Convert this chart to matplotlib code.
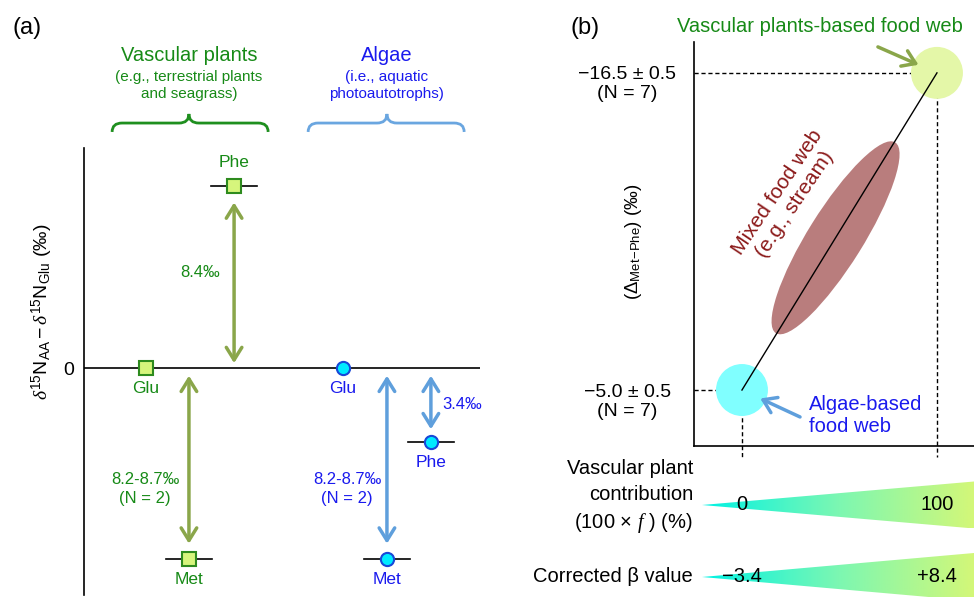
import numpy as np
import matplotlib
matplotlib.use('Agg')
import matplotlib.pyplot as plt
import matplotlib.transforms as mtransforms
from matplotlib.patches import Ellipse, Polygon, PathPatch
from matplotlib.path import Path
from matplotlib.colors import LinearSegmentedColormap

plt.rcParams['font.family'] = ['Liberation Sans', 'DejaVu Sans']
plt.rcParams['mathtext.fontset'] = 'custom'
plt.rcParams['mathtext.rm'] = 'Liberation Sans'
plt.rcParams['mathtext.it'] = 'Liberation Serif:italic'
plt.rcParams['mathtext.bf'] = 'Liberation Sans:bold'

# ---- panel (a): d15N(AA) - d15N(Glu), permil (schematic) ----
aa_names = ['Glu', 'Met', 'Phe']
vascular_vals = [0.0, -8.8, 8.4]
algae_vals = [0.0, -8.8, -3.4]
has_bar = [False, True, True]
phe_gap_vasc = '8.4‰'
phe_gap_alg = '3.4‰'
met_gap = '8.2-8.7‰\n(N = 2)'

# ---- panel (b): Delta(Met-Phe) vs vascular plant contribution ----
contrib = [0, 100]
delta_met_phe = [-5.0, -16.5]
delta_sd = [0.5, 0.5]
n_species = [7, 7]
beta_corr = [-3.4, 8.4]
mixed_f = 48

green = '#178a17'
green_arrow = '#8aa64a'
blue = '#1a1aee'
blue_arrow = '#5f9fdc'

fig = plt.figure(figsize=(9.74, 5.97), dpi=100)

# layout of panel (a)
ax = fig.add_axes([84/974, 2/597, 396/974, 447/597])
ax.set_xlim(0, 10)
ax.set_ylim(-10.46, 10.14)
for s in ['top', 'right', 'bottom']:
    ax.spines[s].set_visible(False)
ax.spines['left'].set_linewidth(1.2)
ax.set_xticks([])
ax.set_yticks([0])
ax.set_yticklabels(['0'], fontsize=14)
ax.tick_params(axis='y', length=0, pad=7)
ax.axhline(0, color='black', lw=1.2, zorder=1)

vasc_x = [1.57, 2.65, 3.79]
alg_x = [6.54, 7.65, 8.76]

for xs, vals, mk, fc, ec, tc in [
        (vasc_x, vascular_vals, 's', '#d6f57c', '#2e8b1e', green),
        (alg_x, algae_vals, 'o', '#00eaff', '#1848d8', blue)]:
    for name, x, v, bar in zip(aa_names, xs, vals, has_bar):
        if bar:
            ax.plot([x - 0.58, x + 0.58], [v, v], color='black', lw=1.2, zorder=2)
        ax.plot(x, v, marker=mk, ms=9.5, mfc=fc, mec=ec, mew=1.5, zorder=3)
        off = 17 if v > 0 else -15
        ax.annotate(name, (x, v), xytext=(0, off), textcoords='offset points',
                    ha='center', va='center', fontsize=12.5, color=tc)

def gap_arrow(x, v0, v1, color, sa, sb):
    ax.annotate('', xy=(x, v1), xytext=(x, v0),
                arrowprops=dict(arrowstyle='<->,head_length=0.45,head_width=0.28',
                                lw=2.5, color=color, shrinkA=sa, shrinkB=sb,
                                mutation_scale=20))

gap_arrow(vasc_x[2], vascular_vals[0], vascular_vals[2], green_arrow, 3.5, 12)
gap_arrow(vasc_x[1], vascular_vals[0], vascular_vals[1], green_arrow, 5.5, 11)
gap_arrow(alg_x[1], algae_vals[0], algae_vals[1], blue_arrow, 5.5, 11)
gap_arrow(alg_x[2], algae_vals[0], algae_vals[2], blue_arrow, 5.5, 9)

ax.annotate(phe_gap_vasc, (vasc_x[2], vascular_vals[2] / 2), xytext=(-24.5, 3),
            textcoords='offset points', ha='center', va='center', fontsize=12, color=green)
ax.annotate(met_gap, (vasc_x[1], vascular_vals[1] / 2), xytext=(-31.5, -18.4),
            textcoords='offset points', ha='center', va='center', fontsize=12,
            color=green, linespacing=1.3)
ax.annotate(met_gap, (alg_x[1], algae_vals[1] / 2), xytext=(-28.8, -18.4),
            textcoords='offset points', ha='center', va='center', fontsize=12,
            color=blue, linespacing=1.3)
ax.annotate(phe_gap_alg, (alg_x[2], algae_vals[2] / 2), xytext=(8, 0),
            textcoords='offset points', ha='left', va='center', fontsize=12, color=blue)

def brace(x0, x1, xc, yb, ym, yt, color):
    r = 0.25
    verts = [(x0, yb), (x0, ym), (x0 + r, ym), (xc - r, ym), (xc, ym), (xc, yt),
             (xc, ym), (xc + r, ym), (x1 - r, ym), (x1, ym), (x1, yb)]
    codes = [Path.MOVETO, Path.CURVE3, Path.CURVE3, Path.LINETO, Path.CURVE3,
             Path.CURVE3, Path.CURVE3, Path.CURVE3, Path.LINETO, Path.CURVE3, Path.CURVE3]
    ax.add_patch(PathPatch(Path(verts, codes), fc='none', ec=color, lw=2, clip_on=False))

brace(0.71, 4.65, vasc_x[1], 10.88, 11.29, 11.71, '#1f8f1f')
brace(5.66, 9.60, alg_x[1], 10.88, 11.29, 11.71, '#6aa6e0')

ax.text(vasc_x[1], 14.4, 'Vascular plants', ha='center', va='center', fontsize=14.5, color=green)
ax.text(vasc_x[1], 13.03, '(e.g., terrestrial plants\nand seagrass)', ha='center', va='center',
        fontsize=11, color=green, linespacing=1.25)
ax.text(alg_x[1], 14.4, 'Algae', ha='center', va='center', fontsize=14.5, color=blue)
ax.text(alg_x[1], 13.03, '(i.e., aquatic\nphotoautotrophs)', ha='center', va='center',
        fontsize=11, color=blue, linespacing=1.25)

fig.text(42/974, 1 - 312/597,
         r'$\delta^{15}\mathrm{N}_{\mathrm{AA}} - \delta^{15}\mathrm{N}_{\mathrm{Glu}}$ (‰)',
         rotation=90, ha='center', va='center', fontsize=14)
fig.text(27/974, 1 - 28/597, '(a)', ha='center', va='center', fontsize=17)

# ---- panel (b) ----
axb = fig.add_axes([694/974, 1 - 446/597, 280/974, 404/597])
axb.set_xlim(-24.6, 119.0)
axb.set_ylim(-2.97, -17.62)
axb.spines['top'].set_visible(False)
axb.spines['right'].set_visible(False)
axb.spines['left'].set_linewidth(1.2)
axb.spines['bottom'].set_linewidth(1.2)
axb.set_xticks([])
axb.set_yticks([])

xl = axb.get_xlim()[0]
yb_ext = axb.get_ylim()[0] + 0.4
for c, d in zip(contrib, delta_met_phe):
    axb.plot([xl, c], [d, d], color='black', lw=1, ls=(0, (3, 2)), clip_on=False)
    axb.plot([c, c], [d, yb_ext], color='black', lw=1, ls=(0, (3, 2)), clip_on=False)

axb.scatter([contrib[0]], [delta_met_phe[0]], s=1400, color='#80ffff', edgecolors='none', zorder=2)
axb.scatter([contrib[1]], [delta_met_phe[1]], s=1400, color='#e4f7a8', edgecolors='none',
            zorder=2, clip_on=False)

cy = np.interp(mixed_f, contrib, delta_met_phe)
trans = fig.dpi_scale_trans + mtransforms.ScaledTranslation(mixed_f, cy, axb.transData)
axb.add_patch(Ellipse((0, 0), 2.25, 0.55, angle=58, transform=trans,
                      facecolor='#b97d7d', edgecolor='none', zorder=3))
axb.plot(contrib, delta_met_phe, color='black', lw=1, zorder=4)

axb.text(22.5, -11.95, 'Mixed food web\n(e.g., stream)', rotation=56, rotation_mode='anchor',
         ha='center', va='center', ma='center', fontsize=15, color='#8b1a1a', linespacing=1.1)

for d, sd, n in zip(delta_met_phe, delta_sd, n_species):
    axb.annotate(f'\u2212{abs(d):.1f} \u00b1 {sd}\n(N = {n})', (0, d),
                 xycoords=axb.get_yaxis_transform(), xytext=(-48, -8.3),
                 textcoords='offset points', ha='center', va='center', ma='center',
                 fontsize=14, linespacing=1.15)

axb.annotate('', xy=(contrib[1], delta_met_phe[1]), xytext=(-42.5, 18.7),
             textcoords='offset points',
             arrowprops=dict(arrowstyle='->,head_length=0.45,head_width=0.3', lw=2.5,
                             color=green_arrow, shrinkA=0, shrinkB=14.5, mutation_scale=20))
axb.annotate('', xy=(contrib[0], delta_met_phe[0]), xytext=(41.8, -19.4),
             textcoords='offset points',
             arrowprops=dict(arrowstyle='->,head_length=0.45,head_width=0.3', lw=2.5,
                             color=blue_arrow, shrinkA=0, shrinkB=14.5, mutation_scale=20))
axb.annotate('Algae-based\nfood web', (contrib[0], delta_met_phe[0]), xytext=(48.2, -18.4),
             textcoords='offset points', ha='left', va='center', fontsize=14.5,
             color=blue, linespacing=1.15)
fig.text(677/974, 1 - 26/597, 'Vascular plants-based food web', ha='left', va='center',
         fontsize=14.5, color=green)

fig.text(633/974, 1 - 242/597, r'$(\Delta_{\mathrm{Met\!-\!Phe}})$ (‰)', rotation=90,
         ha='center', va='center', fontsize=13.5)
fig.text(585/974, 1 - 28/597, '(b)', ha='center', va='center', fontsize=17)

# ---- gradient wedges under panel (b) ----
axw = fig.add_axes([694/974, 0, 280/974, 137/597])
axw.set_xlim(axb.get_xlim())
axw.set_ylim(597, 460)
axw.axis('off')

cmap = LinearSegmentedColormap.from_list('wedge', ['#00f2e4', '#7cf7b2', '#d4f778'])
x_tip = -20.5
x_end = axb.get_xlim()[1]
for yc, half, labels in [(505, 23.5, [f'{c}' for c in contrib]),
                         (577, 24, [f'\u2212{abs(beta_corr[0])}', f'+{beta_corr[1]}'])]:
    poly = Polygon([(x_tip, yc), (x_end, yc - half), (x_end, yc + half)],
                   closed=True, fc='none', ec='none')
    axw.add_patch(poly)
    im = axw.imshow(np.linspace(0, 1, 256)[None, :], extent=(x_tip, x_end, yc + half, yc - half),
                    aspect='auto', cmap=cmap, zorder=1)
    im.set_clip_path(poly)
    for c, lab in zip(contrib, labels):
        axw.text(c, yc, lab, ha='center', va='center', fontsize=14.5, zorder=3)

fig.text(693/974, 1 - 497/597, 'Vascular plant\ncontribution\n(100 × $f$ ) (%)',
         ha='right', va='center', ma='right', fontsize=14.5, linespacing=1.45)
fig.text(693/974, 1 - 576/597, 'Corrected β value', ha='right', va='center', fontsize=14.5)

fig.savefig('out.png', dpi=100)
